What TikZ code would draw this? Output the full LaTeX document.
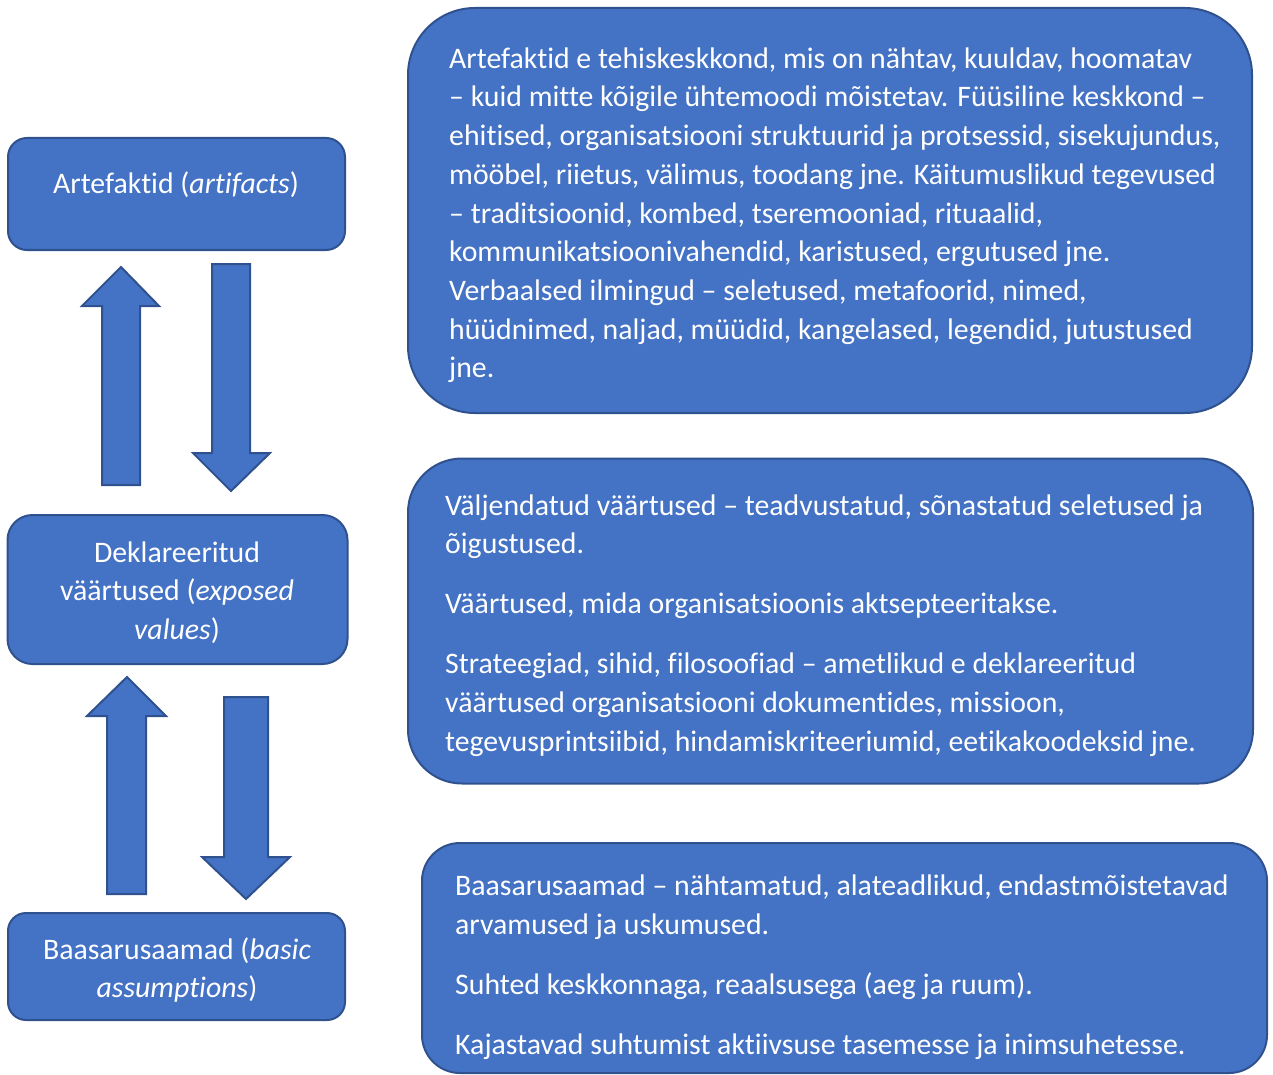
\documentclass[tikz,border=0pt]{standalone}
\usepackage{fontspec}
\setmainfont{Carlito}[Ligatures=NoCommon]
\definecolor{boxfill}{HTML}{4472C4}
\definecolor{boxline}{HTML}{2F528F}
\begin{document}
\begin{tikzpicture}[x=1pt,y=-1pt,
  panel/.style={draw=boxline, fill=boxfill, line width=2pt, inner sep=0pt},
  blockarrow/.style={draw=boxline, fill=boxfill, line width=2pt, line join=miter},
  txt/.style={text=white, inner sep=0pt, align=left, font=\fontsize{29.8}{38.7}\selectfont},
  ctxt/.style={text=white, inner sep=0pt, align=center, font=\fontsize{29.8}{38.7}\selectfont}]
\useasboundingbox (0,0) rectangle (1273,1075);

% left boxes
\node[panel, minimum width=337pt, minimum height=112pt, rounded corners=19pt] (art) at (176.5,194) {};
\node[panel, minimum width=340pt, minimum height=149pt, rounded corners=25pt] (dek) at (177.5,589.5) {};
\node[panel, minimum width=337pt, minimum height=107pt, rounded corners=18pt] (baas) at (176.5,966.5) {};

\node[ctxt, anchor=north] (artT) at (176,193-27.09) {\strut Artefaktid (\textit{artifacts})};
\node[ctxt, anchor=north] (dekT) at (177,562-27.09) {\strut Deklareeritud\\ väärtused (\textit{exposed}\\ \textit{values})};
\node[ctxt, anchor=north] (baasT) at (177,959-27.09) {\strut Baasarusaamad (\textit{basic}\\ \textit{assumptions})};

% block arrows
\draw[blockarrow] (102,485) -- (102,306) -- (82,306) -- (121,267) -- (159,306) -- (140,306) -- (140,485) -- cycle;
\draw[blockarrow] (212,264) -- (250,264) -- (250,453) -- (270,453) -- (231,491) -- (193,453) -- (212,453) -- cycle;
\draw[blockarrow] (107,894) -- (107,716) -- (87,716) -- (127,677) -- (166,716) -- (146,716) -- (146,894) -- cycle;
\draw[blockarrow] (224,697) -- (268,697) -- (268,857) -- (290,857) -- (246,899) -- (202,857) -- (224,857) -- cycle;

% right boxes
\node[panel, minimum width=844pt, minimum height=405pt, rounded corners=67pt] (pa) at (830,210.5) {};
\node[panel, minimum width=845pt, minimum height=325pt, rounded corners=54pt] (pb) at (830.5,621) {};
\node[panel, minimum width=845pt, minimum height=230pt, rounded corners=38pt] (pc) at (844.5,958) {};

\node[txt, anchor=north west] (paT) at (449,68-27.09) {\strut Artefaktid e tehiskeskkond, mis on nähtav, kuuldav, hoomatav\\
– kuid mitte kõigile ühtemoodi mõistetav. Füüsiline keskkond –\\
ehitised, organisatsiooni struktuurid ja protsessid, sisekujundus,\\
mööbel, riietus, välimus, toodang jne. Käitumuslikud tegevused\\
– traditsioonid, kombed, tseremooniad, rituaalid,\\
kommunikatsioonivahendid, karistused, ergutused jne.\\
Verbaalsed ilmingud – seletused, metafoorid, nimed,\\
hüüdnimed, naljad, müüdid, kangelased, legendid, jutustused\\
jne.};

\node[txt, anchor=north west] (pbT) at (445,515-27.09) {\strut Väljendatud väärtused – teadvustatud, sõnastatud seletused ja\\
õigustused.\\[21.3pt]
Väärtused, mida organisatsioonis aktsepteeritakse.\\[21.3pt]
Strateegiad, sihid, filosoofiad – ametlikud e deklareeritud\\
väärtused organisatsiooni dokumentides, missioon,\\
tegevusprintsiibid, hindamiskriteeriumid, eetikakoodeksid jne.};

\node[txt, anchor=north west] (pcT) at (455,895.5-27.09) {\strut Baasarusaamad – nähtamatud, alateadlikud, endastmõistetavad\\
arvamused ja uskumused.\\[21.3pt]
Suhted keskkonnaga, reaalsusega (aeg ja ruum).\\[21.3pt]
Kajastavad suhtumist aktiivsuse tasemesse ja inimsuhetesse.};
\end{tikzpicture}
\end{document}
